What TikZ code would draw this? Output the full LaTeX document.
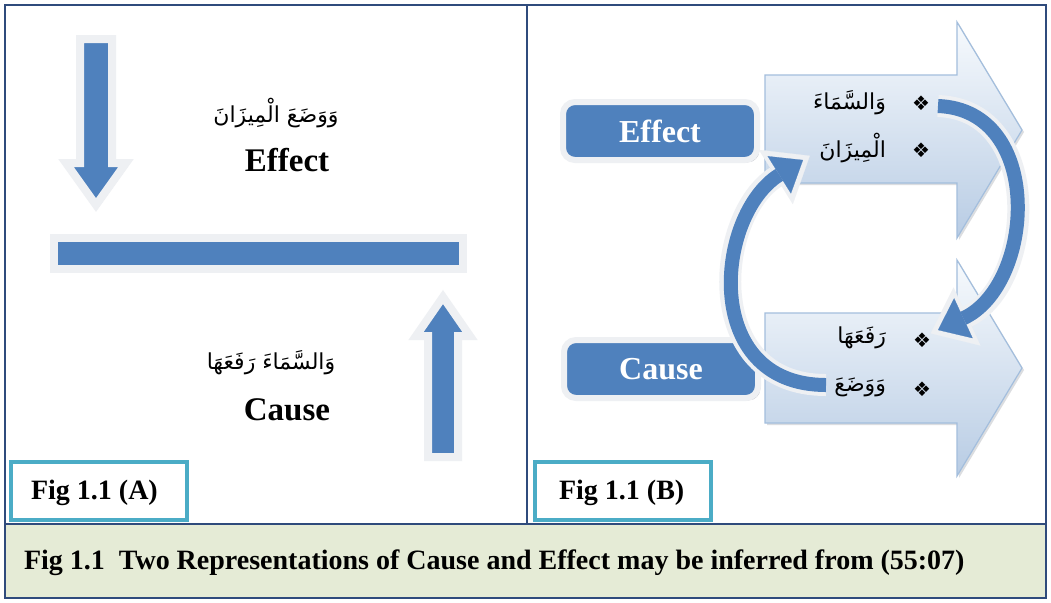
\documentclass[tikz,border=0pt]{standalone}
\usepackage{fontspec}
\setmainfont{Liberation Serif}
\newfontfamily\arabicfont[Script=Arabic]{DejaVu Sans}
\newfontfamily\dingfont{DejaVu Sans}
\TeXXeTstate=1
\usetikzlibrary{positioning,arrows.meta,shadows}

\definecolor{arrowblue}{HTML}{4F81BD}
\definecolor{rimgray}{HTML}{EEF0F3}
\definecolor{shadowgray}{HTML}{9A9FA8}
\definecolor{framenavy}{HTML}{2F4B7C}
\definecolor{figcyan}{HTML}{4BACC6}
\definecolor{captiongreen}{HTML}{E5EBD6}
\definecolor{bigtop}{HTML}{F7FAFD}
\definecolor{bigbottom}{HTML}{B8CCE4}
\definecolor{bigedge}{HTML}{A3BEDD}

\begin{document}
\begin{tikzpicture}[x=0.5pt, y=-0.5pt,
blueshape/.style={fill=arrowblue, draw=rimgray, line width=4pt, line join=miter,
  drop shadow={shadow xshift=1.2pt, shadow yshift=-1.2pt, fill=shadowgray, opacity=0.7}},
bigarrow/.style={draw=bigedge, line width=0.6pt, top color=bigtop, bottom color=bigbottom,
  drop shadow={shadow xshift=1pt, shadow yshift=-1pt, fill=shadowgray, opacity=0.35}},
labelbox/.style={rectangle, rounded corners=6pt, fill=arrowblue, draw=rimgray, line width=3pt,
  minimum width=97pt, minimum height=29pt, text=white, font=\bfseries\fontsize{16}{19}\selectfont,
  drop shadow={shadow xshift=1.2pt, shadow yshift=-1.2pt, fill=shadowgray, opacity=0.6}},
figbox/.style={rectangle, draw=figcyan, line width=2pt, fill=white, minimum width=88pt, minimum height=29pt},
wordnode/.style={font=\bfseries\fontsize{16.5}{19}\selectfont},
arnode/.style={font=\arabicfont\fontsize{11}{14}\selectfont},
bulletnode/.style={font=\dingfont\fontsize{10}{12}\selectfont},
ringrim/.style={draw=rimgray, line width=11pt, shorten >=-4pt,
  -{Triangle[length=20pt, width=32pt, line width=0.1pt, fill=rimgray]}},
ringblue/.style={draw=arrowblue, line width=7pt,
  -{Triangle[length=14pt, width=22pt, line width=0.1pt, fill=arrowblue]}},
]
\useasboundingbox (0,0) rectangle (1051,602);

% Frame and caption band
\fill[white] (0,0) rectangle (1051,602);
\fill[captiongreen] (5,524) rectangle (1046,598);
\draw[framenavy, line width=1pt] (5,5) rectangle (1046,598);
\draw[framenavy, line width=1pt] (527,5) -- (527,524);
\draw[framenavy, line width=1pt] (5,524) -- (1046,524);
\node[anchor=west, font=\bfseries\fontsize{14}{16}\selectfont] (caption) at (17,563)
  {Fig 1.1\ \ Two Representations\ of Cause and Effect may be inferred from (55:07)};

% Panel A: arrows and bar
\draw[blueshape] (80,39) -- (112,39) -- (112,163) -- (126,163) -- (96,205) -- (66,163) -- (80,163) -- cycle;
\draw[blueshape] (54,238) rectangle (463,269);
\draw[blueshape] (428,457) -- (458,457) -- (458,336) -- (470,336) -- (443,297) -- (416,336) -- (428,336) -- cycle;

% Panel A: texts
\node[arnode] (ar_effectA) at (276,113) {\beginR وَوَضَعَ الْمِيزَانَ\endR};
\node[wordnode] (effectA) at (287,160) {Effect};
\node[arnode] (ar_causeA) at (271,363) {\beginR وَالسَّمَاءَ رَفَعَهَا\endR};
\node[wordnode] (causeA) at (287,410) {Cause};
\node[figbox] (figA) at (99,491) {};
\node[anchor=west, font=\bfseries\fontsize{14}{16}\selectfont] (figA_text) at (24,493) {Fig 1.1 (A)};

% Panel B: big arrows
\draw[bigarrow] (765,75) -- (957,75) -- (957,22) -- (1022,130) -- (957,238) -- (957,183) -- (765,183) -- cycle;
\draw[bigarrow] (765,313) -- (957,313) -- (957,260) -- (1022,368) -- (957,476) -- (957,423) -- (765,423) -- cycle;

% Panel B: label boxes
\node[labelbox] (effectB) at (660,131) {Effect};
\node[labelbox] (causeB) at (661,369) {Cause};

% Panel B: list items
\node[bulletnode] (b1) at (921,103) {❖};
\node[bulletnode] (b2) at (921,150) {❖};
\node[bulletnode] (b3) at (922,340) {❖};
\node[bulletnode] (b4) at (922,389) {❖};
\node[arnode, anchor=east] (sky_item) at (893,103) {\beginR وَالسَّمَاءَ\endR};
\node[arnode, anchor=east] (balance_item) at (893,148) {\beginR الْمِيزَانَ\endR};
\node[arnode, anchor=east] (raised_item) at (893,338) {\beginR رَفَعَهَا\endR};
\node[arnode, anchor=east] (set_item) at (893,387) {\beginR وَوَضَعَ\endR};

% Panel B: circular arrows
\coordinate (ring_top) at (938,106);
\coordinate (ring_low) at (938,330);
\coordinate (ring_tail) at (826,385);
\coordinate (ring_head) at (803,160);
\draw[ringrim] (ring_top) .. controls (1045,110) and (1035,285) .. (ring_low);
\draw[ringblue] (ring_top) .. controls (1045,110) and (1035,285) .. (ring_low);
\draw[ringrim] (ring_tail) .. controls (700,385) and (715,215) .. (ring_head);
\draw[ringblue] (ring_tail) .. controls (700,385) and (715,215) .. (ring_head);

\node[figbox] (figB) at (623,491) {};
\node[anchor=west, font=\bfseries\fontsize{14}{16}\selectfont] (figB_text) at (552,493) {Fig 1.1 (B)};

\end{tikzpicture}
\end{document}
